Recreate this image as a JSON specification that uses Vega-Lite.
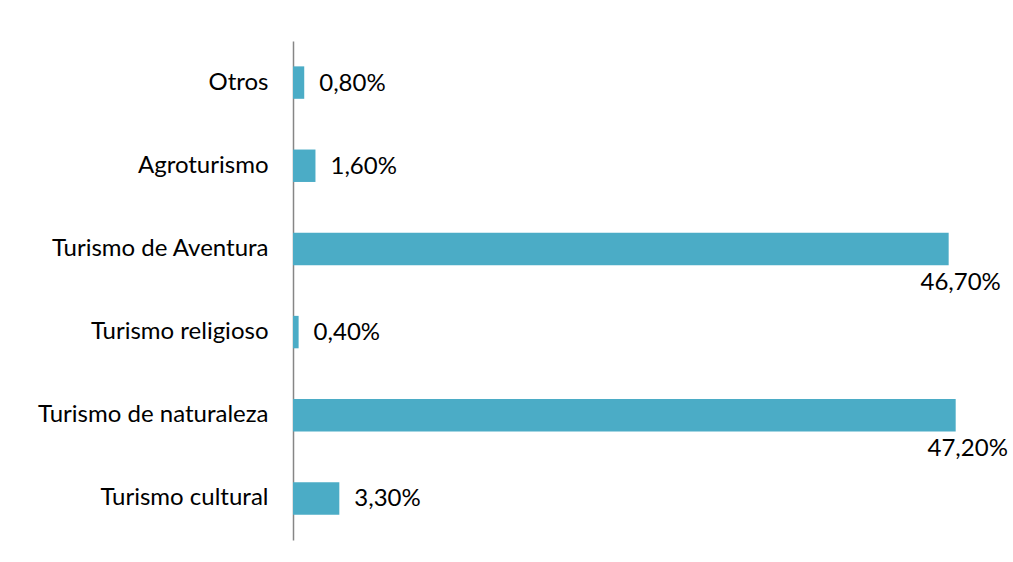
{
  "$schema": "https://vega.github.io/schema/vega-lite/v6.json",
  "autosize": {"type": "none"},
  "width": 702,
  "height": 499,
  "padding": {"left": 293, "top": 41, "right": 18, "bottom": 22},
  "background": "white",
  "config": {
    "view": {"stroke": null},
    "locale": {"number": {"decimal": ",", "thousands": ".", "grouping": [3], "currency": ["", " €"]}},
    "font": "Lato"
  },
  "data": {
    "values": [
      {"categoria": "Otros", "valor": 0.008},
      {"categoria": "Agroturismo", "valor": 0.016},
      {"categoria": "Turismo de Aventura", "valor": 0.467},
      {"categoria": "Turismo religioso", "valor": 0.004},
      {"categoria": "Turismo de naturaleza", "valor": 0.472},
      {"categoria": "Turismo cultural", "valor": 0.033}
    ]
  },
  "encoding": {
    "y": {
      "field": "categoria",
      "type": "nominal",
      "sort": null,
      "title": null,
      "scale": {"paddingInner": 0.61, "paddingOuter": 0.305},
      "axis": {
        "ticks": false,
        "domainColor": "#868686",
        "domainWidth": 1.5,
        "labelFont": "Lato",
        "labelFontSize": 24,
        "labelColor": "#000000",
        "labelPadding": 25,
        "labelLimit": 400
      }
    },
    "x": {
      "field": "valor",
      "type": "quantitative",
      "scale": {"domain": [0, 0.5]},
      "axis": null
    }
  },
  "layer": [
    {"mark": {"type": "bar", "color": "#4BACC6"}},
    {
      "transform": [{"filter": "datum.valor < 0.1"}],
      "mark": {"type": "text", "align": "left", "baseline": "middle", "dx": 15, "dy": 1, "fontSize": 24, "font": "Lato", "color": "#000000"},
      "encoding": {"text": {"field": "valor", "type": "quantitative", "format": ".2%"}}
    },
    {
      "transform": [{"filter": "datum.valor >= 0.1"}],
      "mark": {"type": "text", "align": "center", "baseline": "middle", "dx": 12, "dy": 34, "fontSize": 24, "font": "Lato", "color": "#000000"},
      "encoding": {"text": {"field": "valor", "type": "quantitative", "format": ".2%"}}
    }
  ]
}
